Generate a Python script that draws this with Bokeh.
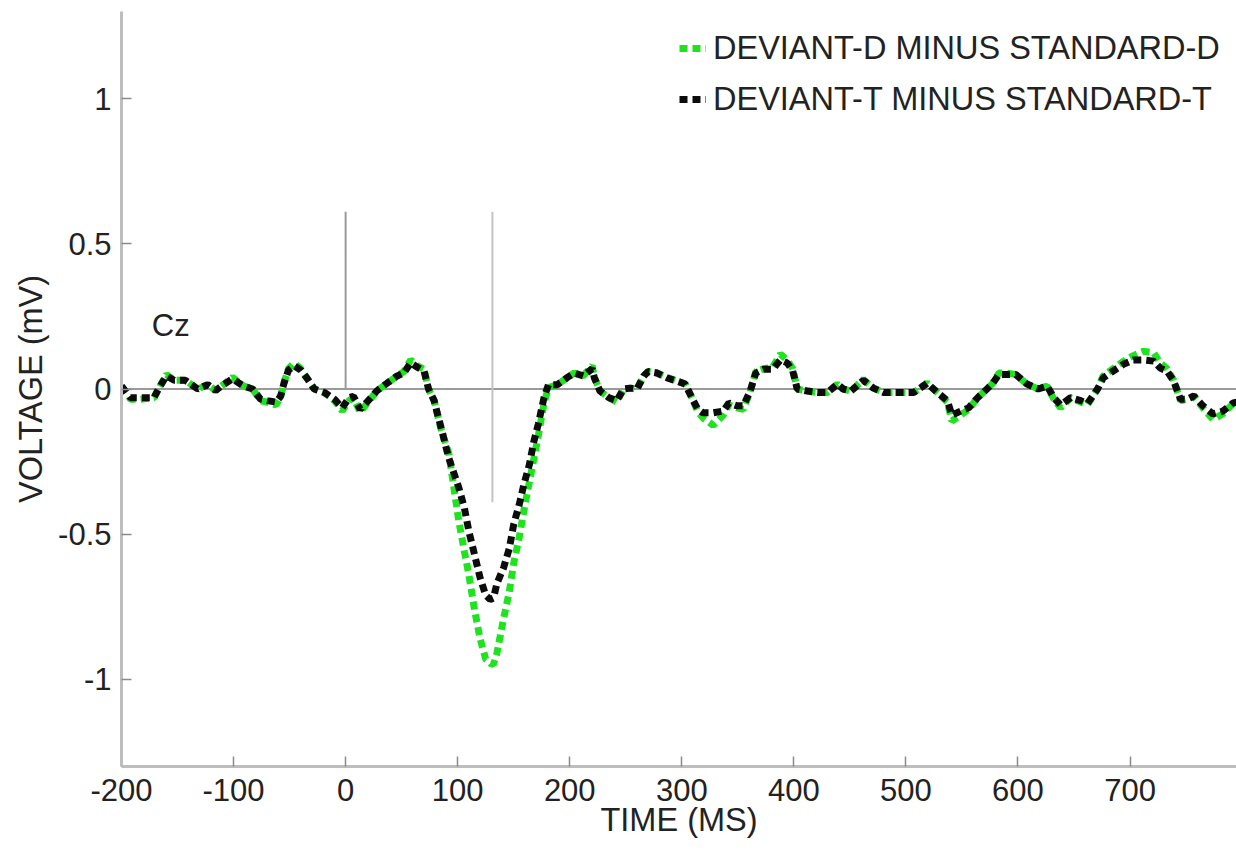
from bokeh.plotting import figure
from bokeh.models import (Range1d, FixedTicker, CustomJSTickFormatter, Legend, LegendItem)
from bokeh.core.properties import value
from bokeh.embed import file_html
from bokeh.resources import INLINE

# ---- data ----
time_ms = [-200, -192, -183, -171, -167, -160, -153, -143, -132, -123, -116, -109, -101, -91, -83,
           -76, -70, -62, -58, -55, -51, -46, -40, -34, -28, -19, -10, -3, 3, 7, 13, 19, 28, 37,
           46, 52, 58, 64, 70, 74, 79, 82, 86, 92, 97, 101, 106, 110, 115, 120, 125, 129, 132,
           135, 141, 146, 150, 155, 159, 164, 168, 172, 177, 181, 189, 198, 204, 212, 220, 222,
           227, 235, 242, 248, 254, 260, 266, 270, 278, 287, 296, 303, 309, 314, 319, 328, 337,
           342, 349, 355, 361, 366, 373, 381, 388, 394, 399, 403, 412, 421, 430, 439, 444, 451,
           462, 471, 480, 492, 507, 519, 528, 537, 541, 549, 556, 564, 569, 577, 583, 590, 598,
           608, 618, 626, 632, 638, 647, 656, 662, 671, 676, 685, 694, 703, 712, 721, 727, 733,
           739, 745, 751, 757, 765, 774, 783, 792, 796]

dev_t_minus_std_t = [0.01, -0.03, -0.03, -0.03, 0.0, 0.045, 0.03, 0.03, 0.0, 0.015, -0.005, 0.015,
                     0.035, 0.01, 0.0, -0.035, -0.04, -0.045, -0.025, 0.02, 0.065, 0.08, 0.065,
                     0.035, 0.0, -0.012, -0.035, -0.065, -0.03, -0.025, -0.07, -0.045, -0.006,
                     0.02, 0.045, 0.055, 0.09, 0.075, 0.062, 0.0, -0.04, -0.086, -0.145, -0.237,
                     -0.294, -0.34, -0.41, -0.49, -0.57, -0.65, -0.71, -0.725, -0.72, -0.67,
                     -0.615, -0.55, -0.466, -0.397, -0.33, -0.26, -0.18, -0.12, -0.03, 0.015,
                     0.015, 0.04, 0.055, 0.045, 0.07, 0.038, -0.007, -0.03, -0.04, 0.0, 0.003,
                     0.0, 0.045, 0.06, 0.055, 0.038, 0.027, 0.017, -0.03, -0.068, -0.082, -0.082,
                     -0.076, -0.048, -0.058, -0.058, -0.007, 0.055, 0.068, 0.068, 0.1, 0.09,
                     0.062, 0.0, -0.007, -0.012, -0.012, 0.017, 0.0, -0.007, 0.03, 0.003, -0.012,
                     -0.012, -0.012, 0.02, -0.012, -0.04, -0.09, -0.076, -0.065, -0.03, -0.012,
                     0.017, 0.05, 0.05, 0.05, 0.017, 0.0, 0.01, -0.03, -0.055, -0.03, -0.04,
                     -0.05, 0.0, 0.038, 0.062, 0.085, 0.1, 0.1, 0.096, 0.072, 0.062, 0.027,
                     -0.035, -0.035, -0.024, -0.058, -0.086, -0.076, -0.048, -0.045]

dev_d_minus_std_d = [0.01, -0.035, -0.035, -0.03, 0.0, 0.05, 0.03, 0.03, 0.0, 0.015, -0.005, 0.015,
                     0.04, 0.01, 0.0, -0.04, -0.045, -0.055, -0.025, 0.02, 0.07, 0.09, 0.07,
                     0.035, 0.0, -0.012, -0.04, -0.075, -0.04, -0.03, -0.08, -0.05, -0.006,
                     0.02, 0.045, 0.06, 0.1, 0.08, 0.068, 0.0, -0.04, -0.09, -0.15, -0.22,
                     -0.35, -0.455, -0.56, -0.64, -0.76, -0.86, -0.93, -0.945, -0.948, -0.91,
                     -0.79, -0.70, -0.60, -0.51, -0.42, -0.32, -0.24, -0.16, -0.05, 0.005,
                     0.015, 0.04, 0.055, 0.045, 0.08, 0.04, -0.007, -0.03, -0.045, 0.0, 0.003,
                     0.0, 0.045, 0.06, 0.055, 0.04, 0.027, 0.017, -0.03, -0.075, -0.1, -0.125,
                     -0.09, -0.055, -0.065, -0.07, -0.01, 0.06, 0.07, 0.075, 0.12, 0.1,
                     0.07, 0.0, -0.007, -0.012, -0.012, 0.017, 0.0, -0.007, 0.033, 0.003, -0.012,
                     -0.012, -0.012, 0.02, -0.012, -0.045, -0.11, -0.09, -0.07, -0.03, -0.012,
                     0.017, 0.055, 0.055, 0.05, 0.017, 0.0, 0.01, -0.035, -0.065, -0.03, -0.045,
                     -0.055, 0.0, 0.045, 0.07, 0.095, 0.115, 0.13, 0.125, 0.09, 0.07, 0.03,
                     -0.04, -0.035, -0.025, -0.065, -0.105, -0.085, -0.05, -0.045]

x_ticks = [-200, -100, 0, 100, 200, 300, 400, 500, 600, 700]
y_ticks = [-1, -0.5, 0, 0.5, 1]

# reference markers: stimulus onset and peak latency
marker_x = [0, 131]
marker_top = [0.61, 0.61]
marker_bottom = [0.0, -0.39]
marker_colors = ["#9a9a9a", "#c4c4c4"]
baseline_x = [-200, 800]
baseline_y = [0, 0]

label_d = "DEVIANT-D MINUS STANDARD-D"
label_t = "DEVIANT-T MINUS STANDARD-T"
electrode = ["Cz"]
electrode_x = [-173]
electrode_y = [0.219]

FONT = "Liberation Sans"

p = figure(width=1236, height=847, output_backend="svg", toolbar_location=None,
           x_range=Range1d(-200, 795), y_range=Range1d(-1.3, 1.3),
           min_border_left=121, min_border_right=0, min_border_top=11, min_border_bottom=81)
p.outline_line_color = None
p.grid.visible = False
p.background_fill_color = "white"

# baseline and markers
p.line(baseline_x, baseline_y, line_color="#9a9a9a", line_width=2)
p.segment(x0=marker_x, y0=marker_bottom, x1=marker_x, y1=marker_top,
          line_color=marker_colors, line_width=2)

green = p.line(time_ms, dev_d_minus_std_d, line_color="#1fe31f", line_width=7,
               line_dash="8 5")
black = p.line(time_ms, dev_t_minus_std_t, line_color="#0c0c0c", line_width=7,
               line_dash="8 5")

p.text(x=electrode_x, y=electrode_y, text=electrode, text_font=value(FONT),
       text_font_size="31px", text_color="#222222", text_baseline="middle", text_align="left")

legend = Legend(items=[LegendItem(label=label_d, renderers=[green]),
                       LegendItem(label=label_t, renderers=[black])],
                location=(558, 647), padding=0, margin=0, spacing=11,
                glyph_width=27, glyph_height=40, label_height=40, label_standoff=7,
                label_text_font=FONT, label_text_font_size="32.5px", label_text_color="#222222",
                background_fill_alpha=0, border_line_alpha=0)
p.add_layout(legend)

for ax in (p.xaxis[0], p.yaxis[0]):
    ax.axis_line_color = "#bdbdbd"
    ax.axis_line_width = 3
    ax.major_tick_line_color = "#8a8a8a"
    ax.major_tick_line_width = 1.5
    ax.major_tick_in = 10
    ax.major_tick_out = 0
    ax.minor_tick_line_color = None
    ax.major_label_text_font = FONT
    ax.major_label_text_font_size = "31px"
    ax.major_label_text_color = "#222222"
    ax.axis_label_text_font = FONT
    ax.axis_label_text_font_size = "32.5px"
    ax.axis_label_text_font_style = "normal"
    ax.axis_label_text_color = "#222222"
    ax.formatter = CustomJSTickFormatter(code="return String(tick)")

p.xaxis.ticker = FixedTicker(ticks=x_ticks)
p.yaxis.ticker = FixedTicker(ticks=y_ticks)
p.xaxis.axis_label = "TIME (MS)"
p.yaxis.axis_label = "VOLTAGE (mV)"
p.xaxis.major_label_standoff = 12
p.xaxis.axis_label_standoff = -2
p.yaxis.major_label_standoff = 10
p.yaxis.axis_label_standoff = 6

open("out.html", "w").write(file_html(p, INLINE))
